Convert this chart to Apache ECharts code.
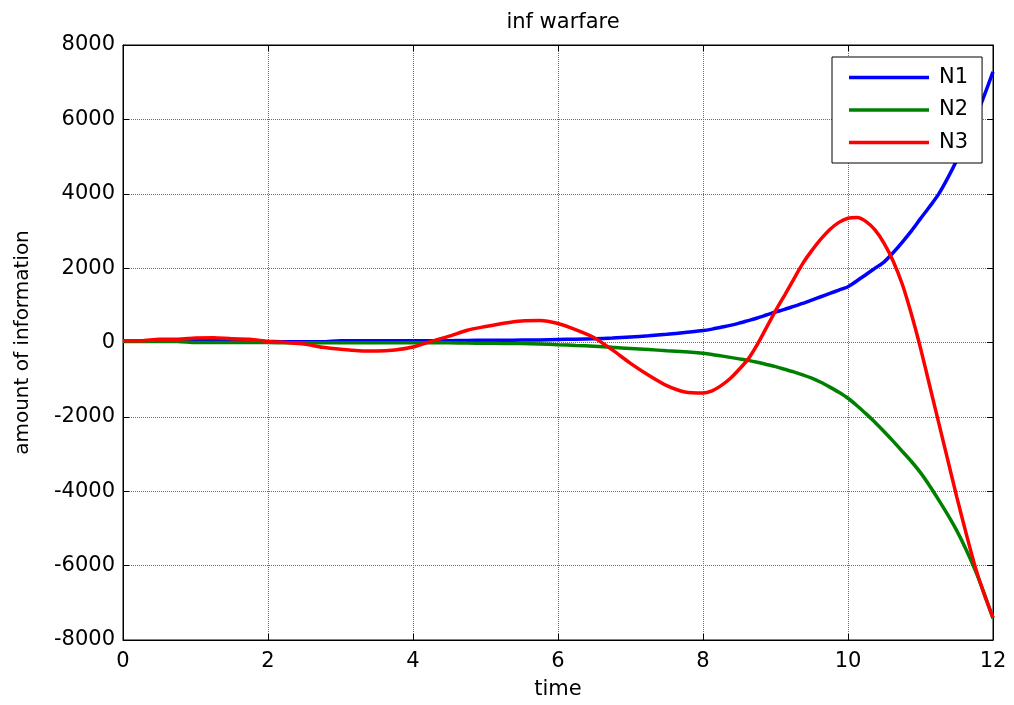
<!DOCTYPE html>
<html>
<head>
<meta charset="utf-8">
<title>inf warfare</title>
<script src="https://cdn.jsdelivr.net/npm/echarts@6/dist/echarts.min.js"></script>
<style>
  html, body { margin: 0; padding: 0; background: #fff; }
  #chart { width: 1014px; height: 705px; }
</style>
</head>
<body>
<div id="chart"></div>
<script>
// Sample times (finer after t = 8 where the curves change quickly)
const time = [
  0, 0.25, 0.5, 0.75, 1, 1.25, 1.5, 1.75, 2, 2.25, 2.5, 2.75, 3, 3.25, 3.5, 3.75,
  4, 4.25, 4.5, 4.75, 5, 5.25, 5.5, 5.75, 6, 6.25, 6.5, 6.75, 7, 7.25, 7.5, 7.75,
  8, 8.125, 8.25, 8.375, 8.5, 8.625, 8.75, 8.875, 9, 9.125, 9.25, 9.375, 9.5, 9.625, 9.75, 9.875,
  10, 10.125, 10.25, 10.375, 10.5, 10.625, 10.75, 10.875, 11, 11.125, 11.25, 11.375, 11.5, 11.625, 11.75, 11.875, 12
];

const n1 = [
  40, 40, 40, 40, 50, 50, 50, 40, 30, 20, 20, 20, 50, 50, 50, 50,
  50, 50, 50, 55, 60, 60, 65, 70, 80, 90, 100, 120, 150, 180, 220, 270,
  320, 360, 410, 460, 520, 590, 660, 740, 820, 890, 970, 1050, 1140, 1230, 1320, 1410,
  1500, 1660, 1830, 2000, 2170, 2420, 2700, 3000, 3330, 3650, 3990, 4420, 4900, 5440, 6000, 6620, 7280
];

const n2 = [
  30, 30, 30, 30, 0, 0, 0, 0, 0, -10, -10, -10, -10, -10, -10, -10,
  -10, -10, -10, -15, -20, -25, -30, -40, -60, -80, -100, -130, -160, -190, -220, -250,
  -290, -320, -360, -400, -440, -480, -530, -590, -650, -720, -790, -870, -960, -1070, -1200, -1340,
  -1500, -1700, -1920, -2150, -2400, -2660, -2930, -3200, -3500, -3850, -4230, -4630, -5060, -5550, -6100, -6730, -7420
];

const n3 = [
  45, 45, 90, 90, 120, 130, 100, 90, 30, 0, -40, -130, -180, -220, -230, -200,
  -120, 30, 170, 330, 430, 520, 580, 590, 510, 340, 130, -200, -560, -880, -1160, -1330,
  -1360, -1300, -1160, -970, -720, -440, -50, 400, 850, 1270, 1700, 2120, 2470, 2780, 3040, 3230,
  3340, 3360, 3250, 3020, 2660, 2180, 1560, 760, -150, -1150, -2150, -3150, -4150, -5100, -6000, -6750, -7400
];

const seriesNames = ['N1', 'N2', 'N3'];
const seriesColors = ['#0000ff', '#008000', '#ff0000'];
const seriesValues = [n1, n2, n3];

const FONT = 'DejaVu Sans';

const chart = echarts.init(document.getElementById('chart'), null, { renderer: 'canvas' });

const pairs = vals => time.map((t, i) => [t, vals[i]]);

const gridLine = { show: true, lineStyle: { color: '#6e6e6e', type: 'dotted', width: 1 } };
const tickStyle = { show: true, inside: true, length: 6, lineStyle: { color: '#000', width: 1 } };
const axisLabelStyle = { color: '#000', fontFamily: FONT, fontSize: 21, formatter: v => String(v) };

chart.setOption({
  animation: false,
  backgroundColor: '#fff',
  title: {
    text: 'inf warfare',
    left: 558,
    textAlign: 'center',
    top: 7,
    textStyle: { fontFamily: FONT, fontSize: 21, fontWeight: 'normal', color: '#000' }
  },
  legend: {
    orient: 'vertical',
    left: 832,
    top: 57,
    padding: [10, 14, 10, 17],
    icon: 'rect',
    itemWidth: 80,
    itemHeight: 3.5,
    itemGap: 11.5,
    backgroundColor: '#fff',
    borderColor: '#000',
    borderWidth: 1,
    borderRadius: 0,
    textStyle: { fontFamily: FONT, fontSize: 21, lineHeight: 21, color: '#000', padding: [0, 0, 0, 5] },
    data: seriesNames
  },
  grid: {
    left: 123,
    right: 21,
    top: 45,
    bottom: 61,
    show: true,
    borderColor: '#000',
    borderWidth: 1,
    backgroundColor: '#fff'
  },
  xAxis: [
    {
      type: 'value',
      min: 0,
      max: 12,
      interval: 2,
      position: 'bottom',
      name: 'time',
      nameLocation: 'middle',
      nameGap: 39,
      nameTextStyle: { fontFamily: FONT, fontSize: 21, color: '#000' },
      axisLine: { show: true, onZero: false, lineStyle: { color: '#000' } },
      axisTick: tickStyle,
      axisLabel: Object.assign({ margin: 11 }, axisLabelStyle),
      splitLine: gridLine
    },
    {
      type: 'value',
      min: 0,
      max: 12,
      interval: 2,
      position: 'top',
      axisLine: { show: true, onZero: false, lineStyle: { color: '#000' } },
      axisTick: tickStyle,
      axisLabel: { show: false },
      splitLine: { show: false }
    }
  ],
  yAxis: [
    {
      type: 'value',
      min: -8000,
      max: 8000,
      interval: 2000,
      position: 'left',
      name: 'amount of information',
      nameLocation: 'middle',
      nameGap: 90,
      nameTextStyle: { fontFamily: FONT, fontSize: 20, color: '#000' },
      axisLine: { show: true, onZero: false, lineStyle: { color: '#000' } },
      axisTick: tickStyle,
      axisLabel: Object.assign({ margin: 8 }, axisLabelStyle),
      splitLine: gridLine
    },
    {
      type: 'value',
      min: -8000,
      max: 8000,
      interval: 2000,
      position: 'right',
      axisLine: { show: true, onZero: false, lineStyle: { color: '#000' } },
      axisTick: tickStyle,
      axisLabel: { show: false },
      splitLine: { show: false }
    }
  ],
  series: seriesNames.map((name, i) => ({
    name: name,
    type: 'line',
    xAxisIndex: 0,
    yAxisIndex: 0,
    data: pairs(seriesValues[i]),
    symbol: 'none',
    smooth: 0.25,
    color: seriesColors[i],
    lineStyle: { color: seriesColors[i], width: 3.5 },
    z: 2 + i
  }))
});
</script>
</body>
</html>
